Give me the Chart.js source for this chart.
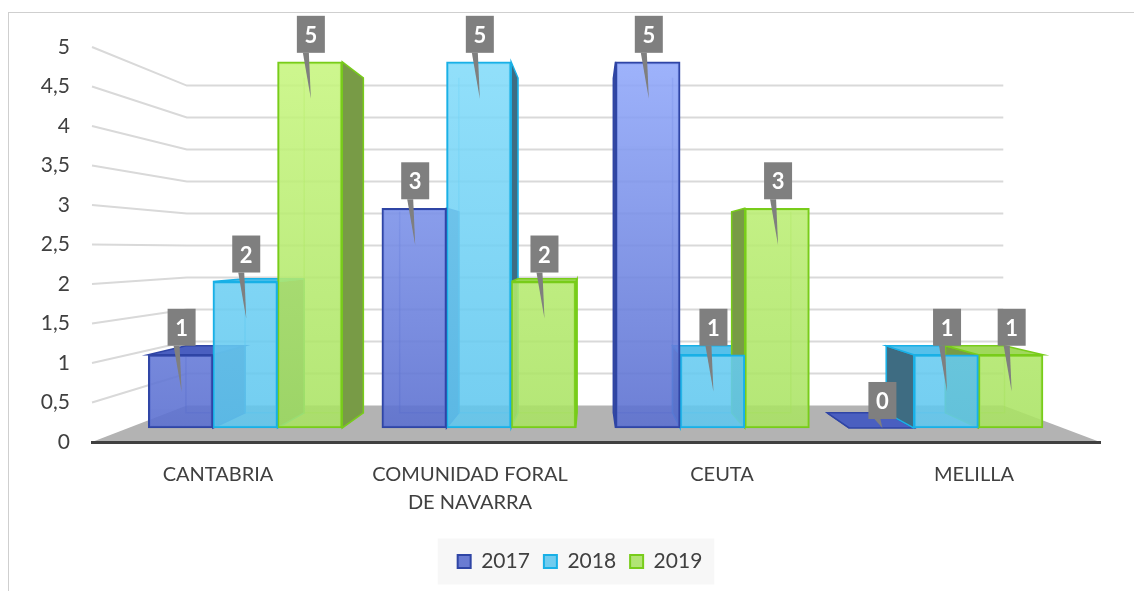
<!DOCTYPE html>
<html>
<head>
<meta charset="utf-8">
<script src="https://cdn.jsdelivr.net/npm/chart.js@4.4.1/dist/chart.umd.min.js"></script>
<style>
  html, body { margin: 0; padding: 0; background: #fff; overflow: hidden; }
  #frame { position: absolute; left: 8px; top: 12px; width: 1300px; height: 800px; border: 1px solid #cfcfcf; }
  #chart { position: absolute; left: 0; top: 0; }
</style>
</head>
<body>
<div id="frame"></div>
<canvas id="chart" width="1134" height="591"></canvas>
<script>
const categories = ['CANTABRIA', ['COMUNIDAD FORAL', 'DE NAVARRA'], 'CEUTA', 'MELILLA']
const seriesNames = ['2017', '2018', '2019']
const values2017 = [1, 3, 5, 0]
const values2018 = [2, 5, 1, 1]
const values2019 = [5, 2, 3, 1]
const yMin = 0, yMax = 5, yStep = 0.5

// fake 3d: plot box and a vanishing point
const L = 92, R = 1100, T = 47, B = 442
const VPX = 591, VPY = 250
const S_FRONT = 0.927, S_DEPTH = 0.915, S_WALL = 0.81
const GROUP = 0.83

const fillTop = ['rgba(146,170,252,0.88)', 'rgba(132,220,250,0.88)', 'rgba(200,246,128,0.88)']
const fillBottom = ['rgba(90,110,206,0.9)', 'rgba(94,198,238,0.88)', 'rgba(168,226,98,0.88)']
const edge = ['#2f45a5', '#19b0e6', '#78cc1a']
const side = ['#3b4c9a', '#3e6c82', '#789b46']
const topFace = ['#4a5fc0', '#56c0ea', '#a0d85c']

// hidden bar axes: bars sit a bit deeper than the front plane, so their scales shrink toward the VP
const k = (B - T) / (yMax - yMin)
const yVal = p => yMin + (B - VPY - (p - VPY) / S_FRONT) / k
const colW = (R - L) / categories.length
const xVal = p => ((VPX + (p - VPX) / S_FRONT) - L) / colW - 0.5

const wall = (x, y) => [VPX + (x - VPX) * S_WALL, VPY + (y - VPY) * S_WALL]
const back = (x, y) => [VPX + (x - VPX) * S_DEPTH, VPY + (y - VPY) * S_DEPTH]

function poly(ctx, pts, fill, stroke){
  ctx.beginPath()
  pts.forEach((p, i) => i ? ctx.lineTo(p[0], p[1]) : ctx.moveTo(p[0], p[1]))
  ctx.closePath()
  if (fill){ ctx.fillStyle = fill; ctx.fill() }
  if (stroke){ ctx.strokeStyle = stroke; ctx.stroke() }
}

function barFill(i){
  return c => {
    const area = c.chart.chartArea
    if (!area) return fillBottom[i]
    const g = c.chart.ctx.createLinearGradient(0, area.top, 0, area.bottom)
    g.addColorStop(0, fillTop[i]); g.addColorStop(1, fillBottom[i])
    return g
  }
}

const seriesValues = [values2017, values2018, values2019]
const datasets = seriesNames.map((name, i) => ({
  label: name,
  data: seriesValues[i].map((v, j) => ({ x: j, y: v })),
  xAxisID: 'xb', yAxisID: 'yb',
  backgroundColor: barFill(i),
  borderColor: edge[i], borderWidth: 2, borderSkipped: false,
  barThickness: colW * S_FRONT * GROUP / 3
}))

const scene = {
  id: 'scene',
  afterLayout(chart){
    // legend sits a little right of centre in the original
    if (chart.legend) chart.legend.left += 60
  },
  beforeDraw(chart){
    const { ctx, chartArea: a, scales } = chart
    ctx.save()
    const boxes = chart.legend && chart.legend.legendHitBoxes
    if (boxes && boxes.length){
      const x0 = Math.min(...boxes.map(b => b.left)) - 20
      const x1 = Math.max(...boxes.map(b => b.left + b.width)) + 12
      const cy = boxes[0].top + boxes[0].height / 2
      ctx.fillStyle = '#f7f7f7'
      ctx.fillRect(x0, cy - 23, x1 - x0, 46)
    }
    // back wall gridlines, bent at the left side wall
    ctx.strokeStyle = '#d9d9d9'; ctx.lineWidth = 2
    scales.y.ticks.forEach(t => {
      if (t.value <= yMin) return
      const y = scales.y.getPixelForValue(t.value)
      const p = wall(a.left, y), q = wall(a.right, y)
      ctx.beginPath(); ctx.moveTo(a.left, y); ctx.lineTo(p[0], p[1]); ctx.lineTo(q[0], q[1]); ctx.stroke()
    })
    // floor
    poly(ctx, [[a.left, a.bottom], [a.right, a.bottom], wall(a.right, a.bottom), wall(a.left, a.bottom)], '#b3b3b3')
    ctx.restore()
  },
  beforeDatasetsDraw(chart){
    const ctx = chart.ctx
    ctx.save()
    ctx.lineWidth = 1.5
    chart.data.datasets.forEach((ds, i) => {
      chart.getDatasetMeta(i).data.forEach(el => {
        const x0 = el.x - el.width / 2, x1 = el.x + el.width / 2, yt = el.y, yb = el.base
        // hidden back edges, seen through the glass
        ctx.globalAlpha = 0.45
        const bl = back(x0, yb), br = back(x1, yb), tl = back(x0, yt), tr = back(x1, yt)
        ctx.strokeStyle = edge[i]
        ctx.beginPath(); ctx.moveTo(tl[0], tl[1]); ctx.lineTo(bl[0], bl[1]); ctx.lineTo(br[0], br[1]); ctx.lineTo(tr[0], tr[1]); ctx.stroke()
        ctx.globalAlpha = 1
        const sx = el.x < VPX ? x1 : x0
        poly(ctx, [[sx, yt], [sx, yb], back(sx, yb), back(sx, yt)], side[i], edge[i])
        if (yt > VPY) poly(ctx, [[x0, yt], [x1, yt], tr, tl], topFace[i], edge[i])
      })
    })
    ctx.restore()
  },
  afterDatasetsDraw(chart){
    const ctx = chart.ctx
    ctx.save()
    ctx.font = 'bold 22px Lato'; ctx.textAlign = 'center'; ctx.textBaseline = 'middle'
    chart.data.datasets.forEach((ds, i) => {
      chart.getDatasetMeta(i).data.forEach((el, j) => {
        const cx = el.x + 1, by = el.y - 9
        const tip = Math.min(el.y + 37, el.base)
        poly(ctx, [[cx - 8, by], [cx - 2, by], [cx, tip]], '#7f7f7f')
        ctx.fillStyle = '#7f7f7f'
        ctx.fillRect(cx - 14, by - 37, 28, 37)
        ctx.fillStyle = '#fff'
        ctx.fillText(String(ds.data[j].y), cx, by - 17)
      })
    })
    ctx.restore()
  }
}

Chart.defaults.font.family = 'Lato'
Chart.defaults.color = '#404040'

new Chart(document.getElementById('chart'), {
  type: 'bar',
  data: { labels: categories, datasets },
  options: {
    responsive: false,
    animation: false,
    layout: { padding: { left: 0, right: 1134 - R, top: T, bottom: 9 } },
    plugins: {
      tooltip: { enabled: false },
      legend: {
        position: 'bottom',
        labels: { font: { size: 21 }, color: '#404040', boxWidth: 13, boxHeight: 13, padding: 14 }
      }
    },
    scales: {
      x: {
        type: 'category', position: 'bottom', offset: true,
        grid: { display: false, drawTicks: false },
        border: { display: true, color: '#404040', width: 3 },
        ticks: { font: { size: 20, lineHeight: 1.4 }, color: '#404040', padding: 19, maxRotation: 0, autoSkip: false },
        afterFit: s => { s.height = 95 }
      },
      y: {
        min: yMin, max: yMax,
        grid: { display: false, drawTicks: false },
        border: { display: false },
        ticks: { stepSize: yStep, font: { size: 21 }, color: '#404040', padding: 22,
          callback: v => String(v).replace('.', ',') },
        afterFit: s => { s.width = L }
      },
      xb: { type: 'linear', display: false, offset: false, min: xVal(L), max: xVal(R) },
      yb: { type: 'linear', display: false, min: yVal(B), max: yVal(T) }
    }
  },
  plugins: [scene]
})
</script>
</body>
</html>
